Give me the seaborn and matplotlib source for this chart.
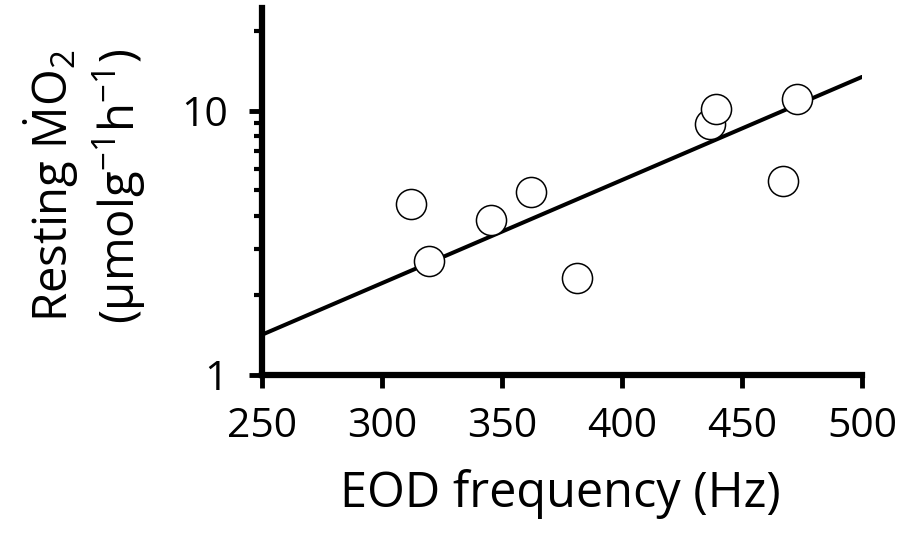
import numpy as np
import pandas as pd
import seaborn as sns
import matplotlib
matplotlib.use("Agg")
import matplotlib.pyplot as plt
from matplotlib.ticker import NullFormatter, FixedLocator, FixedFormatter

# Data
eod_freq = [312.0, 319.7, 345.5, 362.2, 381.2, 436.7, 439.3, 467.1, 473.1]
resting_mo2 = [4.44, 2.69, 3.85, 4.90, 2.32, 8.86, 10.1, 5.43, 11.06]
fit_x = [250, 500]
fit_y = [1.42, 13.4]
x_ticks = [250, 300, 350, 400, 450, 500]
y_ticks = [1, 10]
y_minor = [2, 3, 4, 5, 6, 7, 8, 9, 20]

sns.set_style("ticks")
FONT = "Open Sans"
plt.rcParams['font.family'] = [FONT, 'DejaVu Sans']
plt.rcParams['mathtext.fontset'] = 'custom'
plt.rcParams['mathtext.rm'] = FONT
plt.rcParams['mathtext.it'] = FONT
plt.rcParams['mathtext.bf'] = FONT
plt.rcParams['text.color'] = 'black'
plt.rcParams['axes.labelcolor'] = 'black'

df = pd.DataFrame({"x": eod_freq, "y": resting_mo2})
fit = pd.DataFrame({"x": fit_x, "y": fit_y})

fig = plt.figure(figsize=(9.18, 5.38), dpi=100)
ax = fig.add_axes([0.2854, 0.303, 0.6536, 0.682])

sns.lineplot(data=fit, x="x", y="y", ax=ax, color="black", linewidth=2.9, zorder=2)
sns.scatterplot(data=df, x="x", y="y", ax=ax, s=470, facecolor="white",
                edgecolor="black", linewidth=1.1, zorder=3)

ax.set_yscale("log")
ax.set_xlim(250, 500)
ax.set_ylim(1, 24.4)
ax.xaxis.set_major_locator(FixedLocator(x_ticks))
ax.yaxis.set_major_locator(FixedLocator(y_ticks))
ax.yaxis.set_major_formatter(FixedFormatter([str(v) for v in y_ticks]))
ax.yaxis.set_minor_locator(FixedLocator(y_minor))
ax.yaxis.set_minor_formatter(NullFormatter())

for s in ["top", "right"]:
    ax.spines[s].set_visible(False)
for s in ["left", "bottom"]:
    ax.spines[s].set_linewidth(4.5)
    ax.spines[s].set_color("black")
    ax.spines[s].set_capstyle("projecting")

ax.tick_params(axis="both", which="major", direction="out", length=9.5, width=3.5,
               labelsize=29.5, color="black", labelcolor="black")
ax.tick_params(axis="x", which="major", pad=13)
ax.tick_params(axis="y", which="major", pad=15)
ax.tick_params(axis="y", which="minor", direction="out", length=6, width=3.0, color="black")

ax.set_xlabel("EOD frequency (Hz)", fontsize=35)
ax.xaxis.set_label_coords(0.497, -0.255)
ax.set_ylabel("Resting $\\dot{M}$O$_2$\n(μmolg$^{-1}$h$^{-1}$)", fontsize=34,
              linespacing=1.22)
ax.yaxis.set_label_coords(-0.19, 0.515)

fig.savefig("out.png", dpi=100)
